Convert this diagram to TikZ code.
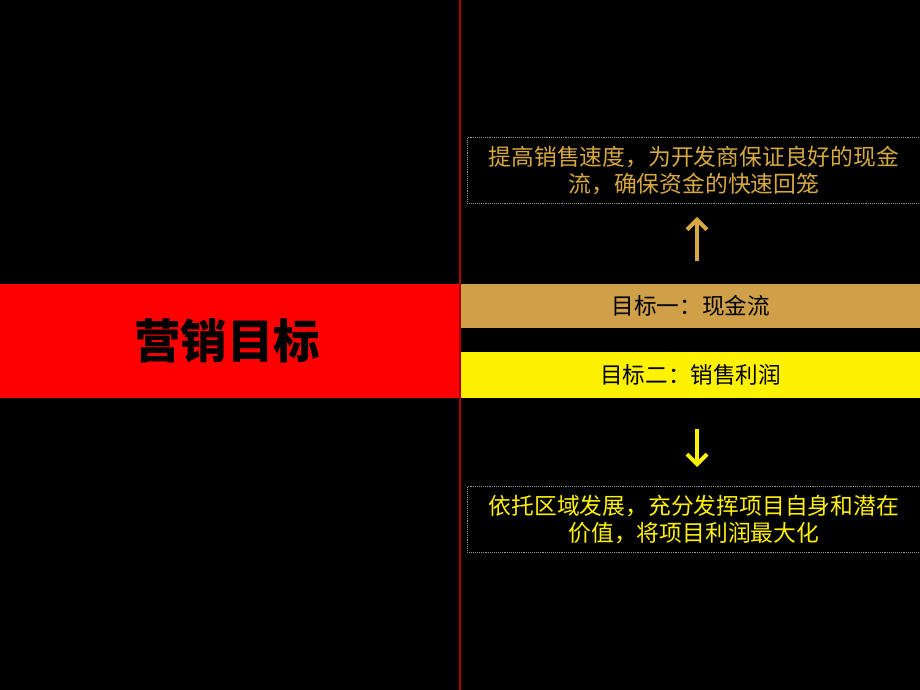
\documentclass[tikz,border=0pt]{standalone}
\usepackage{fontspec}
\usetikzlibrary{arrows.meta}
\newfontfamily\cjk{Noto Sans CJK SC}
\definecolor{bandgold}{RGB}{207,160,72}
\definecolor{txtgold}{RGB}{214,168,64}
\definecolor{vred}{RGB}{170,0,0}
\definecolor{boxgray}{RGB}{150,150,150}
\begin{document}
\begin{tikzpicture}[x=1pt,y=-1pt,
  band/.style={draw=none,minimum height=44pt,minimum width=459pt,inner sep=0pt,font=\cjk\fontsize{22.6}{26}\selectfont,text=black},
  goalbox/.style={draw=boxgray,line width=0.9pt,densely dotted,minimum width=453pt,minimum height=66pt,inner sep=0pt,align=center,font=\cjk\fontsize{22.8}{27}\selectfont},
  arr/.style={line width=4pt,-{Straight Barb[length=10pt,width=20pt,line width=4pt]}}]
\useasboundingbox (0,0) rectangle (920,690);
\fill[black] (0,0) rectangle (920,690);
\node[fill=red,minimum width=460pt,minimum height=114pt,inner sep=0pt,anchor=north west,font=\cjk\bfseries\fontsize{46.5}{52}\selectfont] (title) at (0,284) {\hspace{-6pt}营销目标};
\draw[vred,line width=1.2pt] (460,0) -- (460,690);
\node[band,fill=bandgold,anchor=north west] (g1) at (461,284) {目标一：现金流};
\node[band,fill=yellow,anchor=north west,minimum height=46pt] (g2) at (461,352) {目标二：销售利润};
\node[goalbox,text=txtgold,anchor=north west] (top) at (467,137) {提高销售速度，为开发商保证良好的现金\\流，确保资金的快速回笼};
\node[goalbox,text=yellow,anchor=north west] (bot) at (467,486) {依托区域发展，充分发挥项目自身和潜在\\价值，将项目利润最大化};
\coordinate (upS) at (697,261);
\coordinate (dnS) at (697,429);
\draw[arr,txtgold] (upS) -- ([yshift=-13pt]top.south -| upS);
\draw[arr,yellow] (dnS) -- ([yshift=19pt]bot.north -| dnS);
\end{tikzpicture}
\end{document}
